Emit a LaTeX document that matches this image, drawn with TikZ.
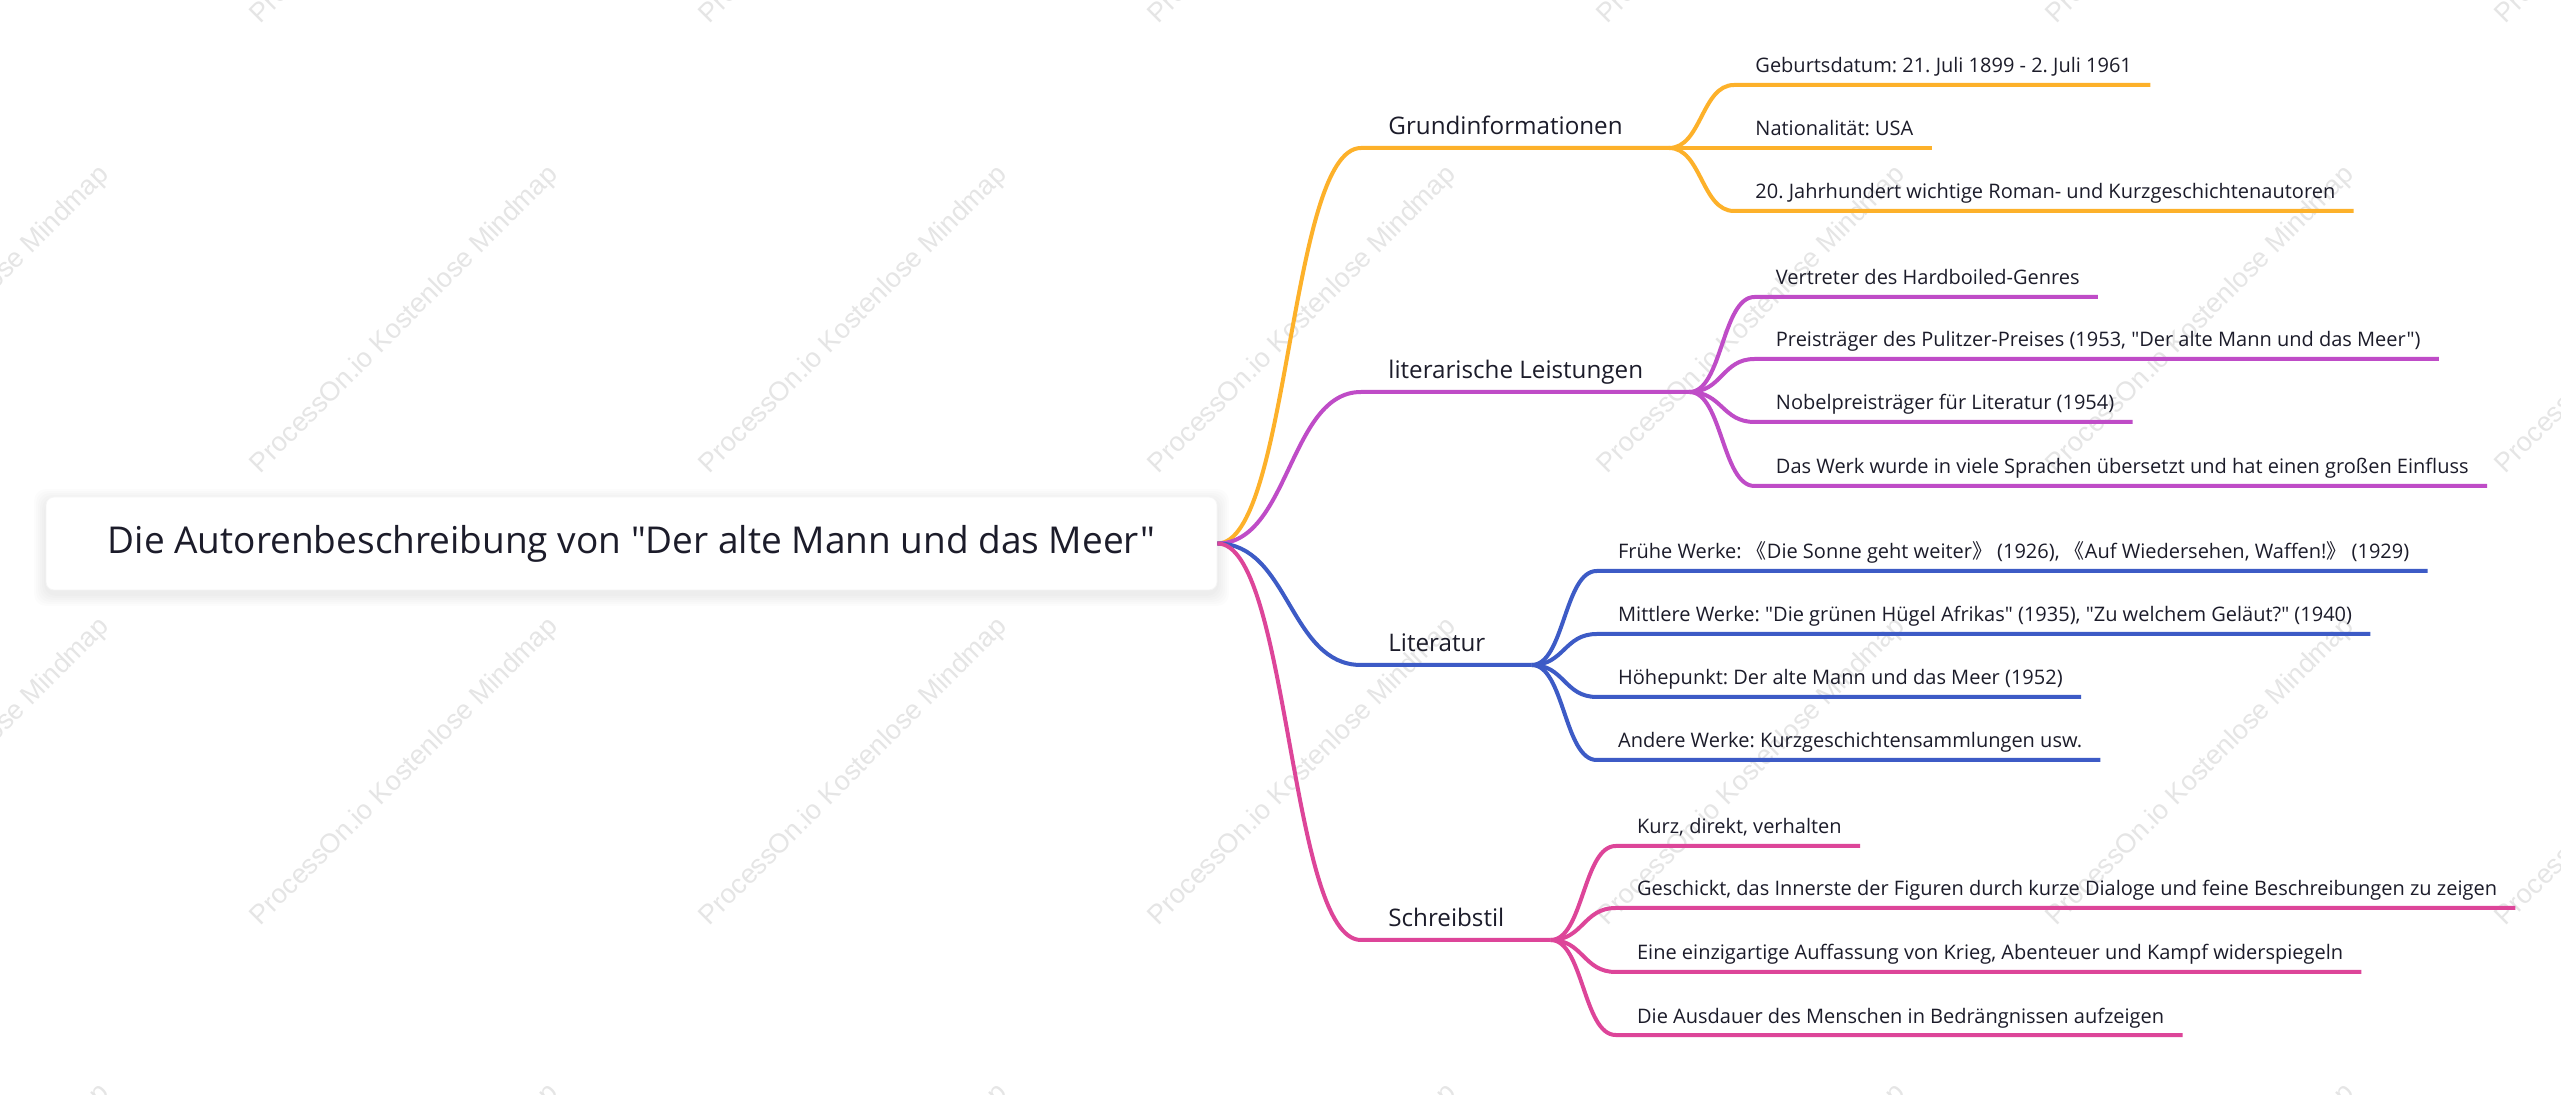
\documentclass[tikz,border=0pt]{standalone}
\usepackage{fontspec}
\setmainfont{Open Sans}[Ligatures=TeXOff]
\newfontfamily\cjkfont{Noto Sans CJK SC}
\newfontfamily\wmfont{Liberation Sans}
\usetikzlibrary{calc}
\definecolor{cOrange}{HTML}{FDB12A}
\definecolor{cPurple}{HTML}{BF4CC7}
\definecolor{cBlue}{HTML}{3D5BC6}
\definecolor{cPink}{HTML}{DD4599}
\definecolor{cText}{HTML}{1C1C2A}
\newcommand\lb{{\cjkfont 《}}
\newcommand\rb{{\cjkfont 》}}
\frenchspacing
% child: name, fork, colour, line y, text
\newcommand\mmchild[5]{%
  \coordinate (#1s) at ($(#2|-0,#4)+(65,0)$);
  \node[l2] (#1) at ($(#2|-0,#4)+(86,-12)$) {#5};
  \coordinate (#1e) at ($(#1.base east)+(18,12)$);
  \draw[branch,#3] (#2) to (#1s) -- (#1e);
}
\begin{document}
\begin{tikzpicture}[x=0.5pt,y=-0.5pt,
  txt/.style={anchor=base west, inner sep=0pt, text=cText},
  l1/.style={txt, font=\fontsize{12.1}{14}\selectfont},
  l2/.style={txt, font=\fontsize{10}{12}\selectfont},
  rootbox/.style={rounded corners=4pt, fill=white, draw=black!4, line width=0.4pt,
    minimum width=585.5pt, minimum height=46.5pt, inner sep=0pt, text=cText,
    font=\fontsize{18.5}{22}\selectfont},
  branch/.style={line width=2pt, line cap=butt, line join=round,
    to path={.. controls ($(\tikztostart)!.5!(\tikztostart-|\tikztotarget)$)
      and ($(\tikztotarget)!.5!(\tikztotarget-|\tikztostart)$) .. (\tikztotarget)}},
  wm/.style={rotate=45, text=black!10, font=\wmfont\fontsize{13.5}{15}\selectfont, inner sep=0pt}]
\useasboundingbox (0,0) rectangle (2561,1095);
\fill[white] (0,0) rectangle (2561,1095);
% watermarks
\begin{scope}
\clip (0,0) rectangle (2561,1095);
\foreach \wx in {-44,405,854,1303,1752,2201,2650}
  \foreach \wy in {-130,320,772,1238}
    \node[wm] at (\wx,\wy) {ProcessOn.io Kostenlose Mindmap};
\end{scope}
% root shadow
\foreach \s in {2,4,...,12}
  \fill[black,opacity=0.010,rounded corners=6pt] (46-\s,497-\s+4) rectangle (1217+\s,590+\s+4);
\node[rootbox] (root) at (631.5,543.5) {Die Autorenbeschreibung von "Der alte Mann und das Meer"};

% ---------- Grundinformationen
\node[l1] (gi) at (1388,135) {Grundinformationen};
\coordinate (giS) at (1361,148);
\coordinate (giF) at ($(gi.base east)+(46,13)$);
\draw[branch,cOrange] (root.east) to (giS) -- (giF);
\mmchild{gi1}{giF}{cOrange}{85}{Geburtsdatum: 21. Juli 1899 - 2. Juli 1961}
\mmchild{gi2}{giF}{cOrange}{148}{Nationalität: USA}
\mmchild{gi3}{giF}{cOrange}{211}{20. Jahrhundert wichtige Roman- und Kurzgeschichtenautoren}

% ---------- literarische Leistungen
\node[l1] (ll) at (1388,379) {literarische Leistungen};
\coordinate (llS) at (1361,392);
\coordinate (llF) at ($(ll.base east)+(46,13)$);
\draw[branch,cPurple] (root.east) to (llS) -- (llF);
\mmchild{ll1}{llF}{cPurple}{297}{Vertreter des Hardboiled-Genres}
\mmchild{ll2}{llF}{cPurple}{359}{Preisträger des Pulitzer-Preises (1953, "Der alte Mann und das Meer")}
\mmchild{ll3}{llF}{cPurple}{422}{Nobelpreisträger für Literatur (1954)}
\mmchild{ll4}{llF}{cPurple}{486}{Das Werk wurde in viele Sprachen übersetzt und hat einen großen Einfluss}

% ---------- Literatur
\node[l1] (lt) at (1388,652) {Literatur};
\coordinate (ltS) at (1361,665);
\coordinate (ltF) at ($(lt.base east)+(46,13)$);
\draw[branch,cBlue] (root.east) to (ltS) -- (ltF);
\mmchild{lt1}{ltF}{cBlue}{571}{Frühe Werke: \lb Die Sonne geht weiter\rb\ (1926), \lb Auf Wiedersehen, Waffen!\rb\ (1929)}
\mmchild{lt2}{ltF}{cBlue}{634}{Mittlere Werke: "Die grünen Hügel Afrikas" (1935), "Zu welchem Geläut?" (1940)}
\mmchild{lt3}{ltF}{cBlue}{697}{Höhepunkt: Der alte Mann und das Meer (1952)}
\mmchild{lt4}{ltF}{cBlue}{760}{Andere Werke: Kurzgeschichtensammlungen usw.}

% ---------- Schreibstil
\node[l1] (ss) at (1388,927) {Schreibstil};
\coordinate (ssS) at (1361,940);
\coordinate (ssF) at ($(ss.base east)+(46,13)$);
\draw[branch,cPink] (root.east) to (ssS) -- (ssF);
\mmchild{ss1}{ssF}{cPink}{846}{Kurz, direkt, verhalten}
\mmchild{ss2}{ssF}{cPink}{908}{Geschickt, das Innerste der Figuren durch kurze Dialoge und feine Beschreibungen zu zeigen}
\mmchild{ss3}{ssF}{cPink}{972}{Eine einzigartige Auffassung von Krieg, Abenteuer und Kampf widerspiegeln}
\mmchild{ss4}{ssF}{cPink}{1035}{Die Ausdauer des Menschen in Bedrängnissen aufzeigen}
\end{tikzpicture}
\end{document}
